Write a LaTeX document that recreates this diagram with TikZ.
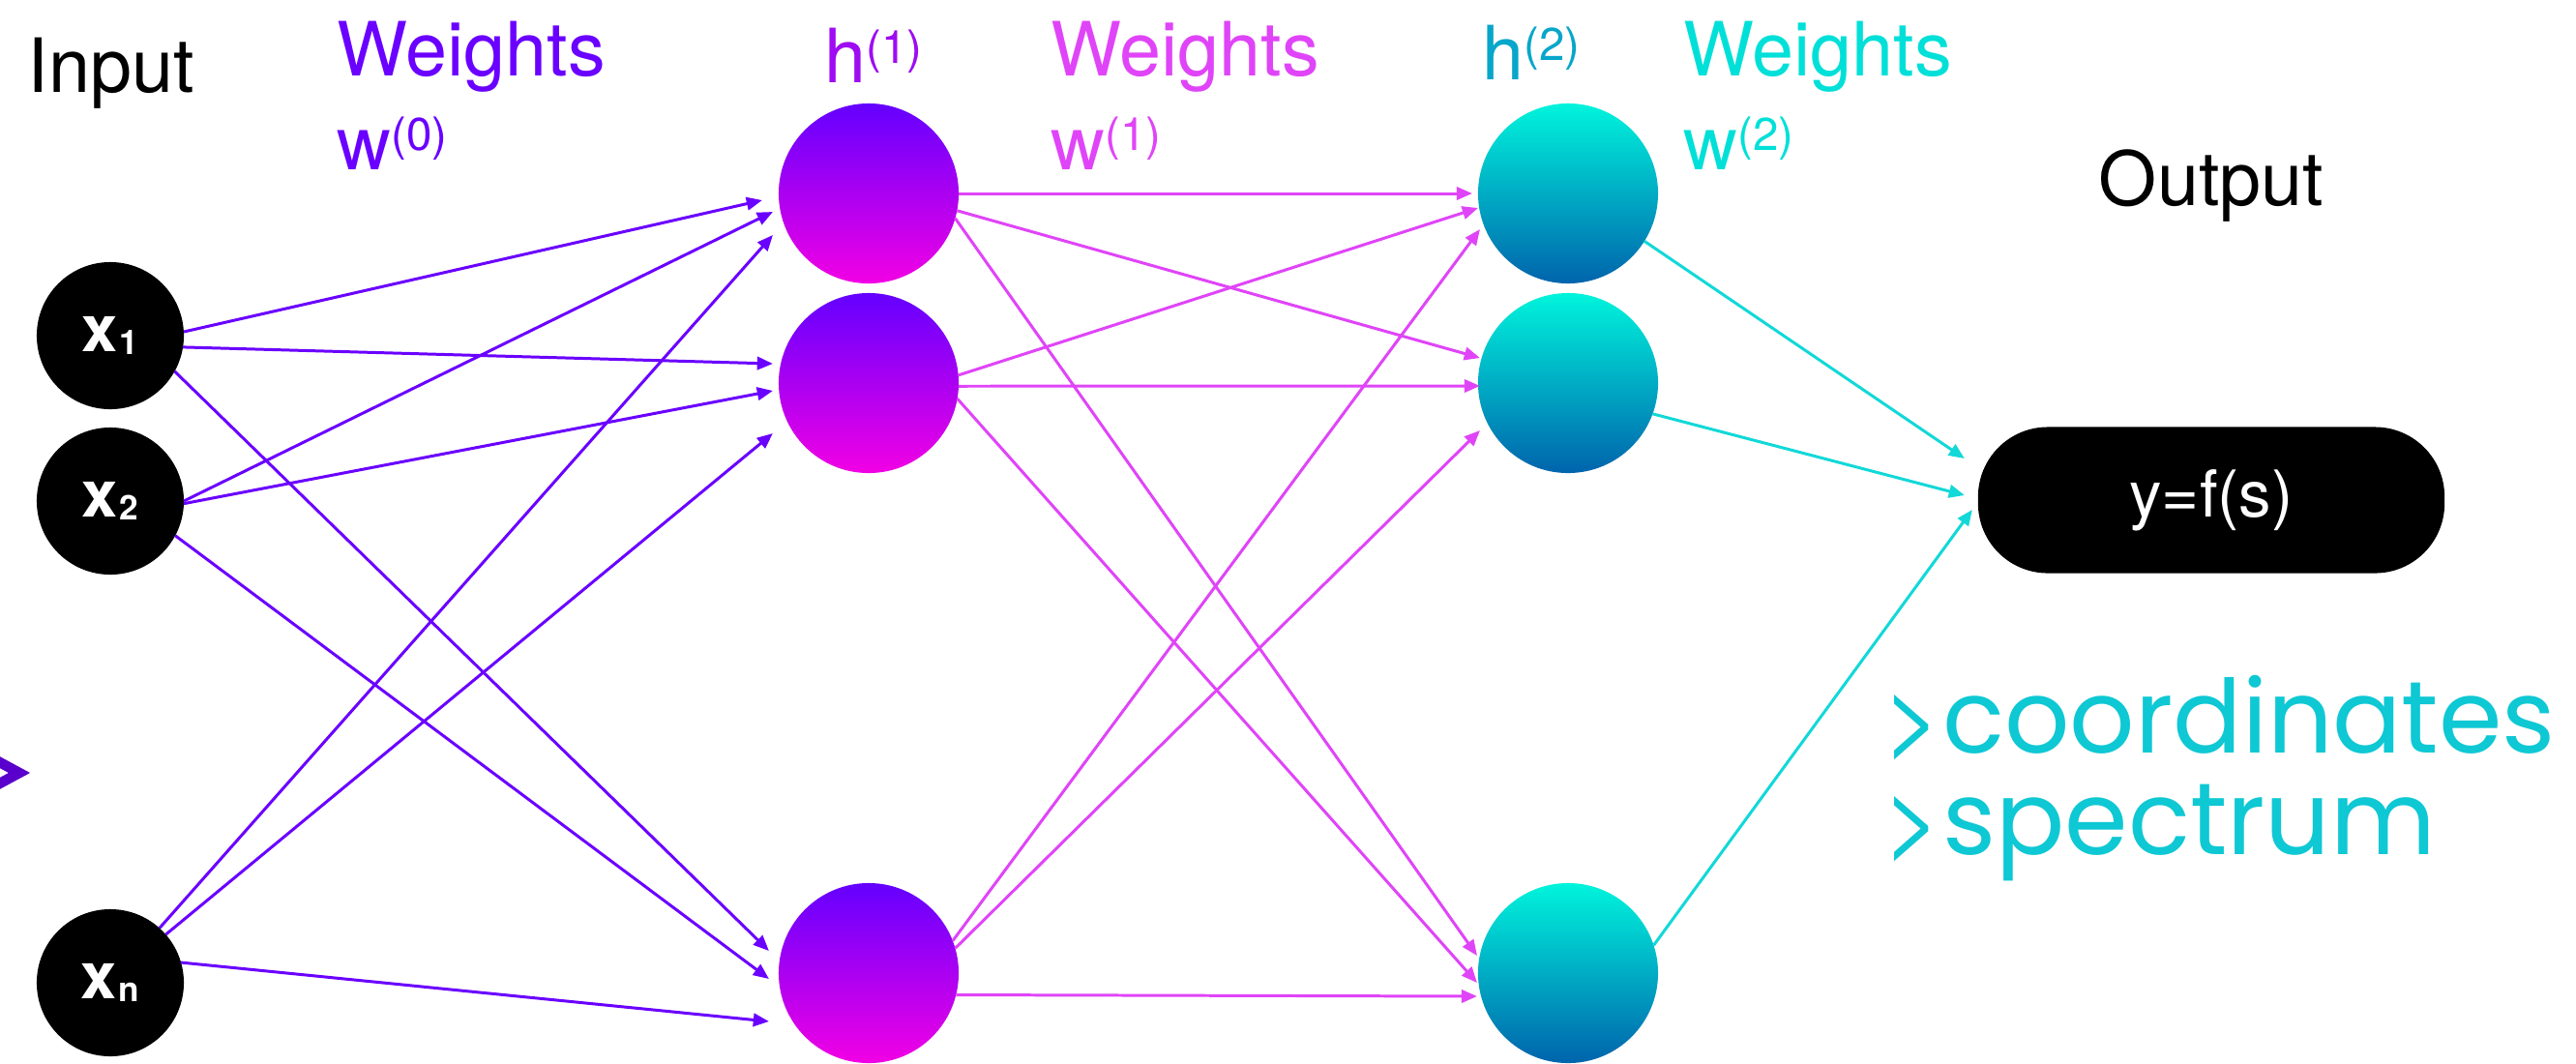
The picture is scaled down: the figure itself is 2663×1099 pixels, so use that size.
\documentclass[tikz,border=0pt]{standalone}
\usepackage{fontspec}
\setmainfont{TeX Gyre Heros}
\newfontfamily\notefont{Poppins}
\usetikzlibrary{arrows.meta,calc}
\definecolor{wzero}{HTML}{6A00FF}
\definecolor{hone}{HTML}{9E0CF2}
\definecolor{wone}{HTML}{E044F8}
\definecolor{htwo}{HTML}{08A6CA}
\definecolor{wtwo}{HTML}{00E0D8}
\definecolor{note}{HTML}{0EC8D4}
\definecolor{chev}{HTML}{5A00CC}
\definecolor{hatop}{HTML}{6400FF}
\definecolor{habot}{HTML}{F200E4}
\definecolor{hbtop}{HTML}{00F4DC}
\definecolor{hbbot}{HTML}{0064AC}
\definecolor{linec}{HTML}{12D8D8}

\newcommand\xsub[1]{x\kern0.5pt\raisebox{-1pt}{\fontsize{10}{10}\selectfont #1}}
\newcommand\lay[1]{\raisebox{5.5pt}{\fontsize{13.5}{13.5}\selectfont(#1)}}
\newcommand\prompt{{\rmfamily>}}

\begin{document}
\begin{tikzpicture}[
  x=0.01cm, y=-0.01cm,
  >={Triangle[length=4.6pt,width=3.8pt]},
  inp/.style={circle, fill=black, minimum size=1.52cm, inner sep=0pt, outer sep=0pt,
    text=white, font=\fontsize{19}{19}\selectfont\bfseries},
  hida/.style={circle, top color=hatop, bottom color=habot, minimum size=1.86cm,
    inner sep=0pt, outer sep=0pt},
  hidb/.style={hida, top color=hbtop, bottom color=hbbot},
  pill/.style={rectangle, rounded corners=0.72cm, fill=black, minimum width=4.82cm,
    minimum height=1.51cm, inner sep=0pt, outer sep=0pt, text=white,
    font=\fontsize{19}{19}\selectfont},
  lbl/.style={inner sep=0pt, font=\fontsize{22}{27.6}\selectfont, align=left},
  wire/.style={->, line width=0.85pt},
]
\path[use as bounding box, fill=white] (0,0) rectangle (2663,1099);

% --- nodes ---
\node[inp] (x1) at (114,347) {\xsub{1}};
\node[inp] (x2) at (114,518) {\xsub{2}};
\node[inp] (xn) at (114,1016) {\xsub{n}};
\node[hida] (h11) at (898,200) {};
\node[hida] (h12) at (898,396) {};
\node[hida] (h13) at (898,1006) {};
\node[hidb] (h21) at (1621,200) {};
\node[hidb] (h22) at (1621,396) {};
\node[hidb] (h23) at (1621,1006) {};
\node[pill] (out) at (2286,517) {y=f(s)};

% --- input layer -> first hidden layer ---
\foreach \s/\a/\t/\dx/\dy in {x1/3/h11/-17/7, x1/-9/h12/-6/-20, x1/-29/h13/-10/-23,
    x2/0/h11/-6/19, x2/-2/h12/-6/8, x2/-28/h13/-10/6,
    xn/48/h11/-6/43, xn/41/h12/-6/52, xn/16/h13/-10/50}
  \draw[wire, wzero] (\s.\a) -- ($(\t.west)+(\dx,\dy)$);
% --- first hidden -> second hidden ---
\foreach \s/\a/\t/\dx/\dy in {h11/0/h21/-6/0, h11/-11/h22/2/-26, h11/-16/h23/-1/-18,
    h12/5/h21/0/15, h12/-2/h22/2/3, h12/-10/h23/-1/10,
    h13/21/h21/2/37, h13/16/h22/2/49, h13/-14/h23/-1/24}
  \draw[wire, wone] (\s.\a) -- ($(\t.west)+(\dx,\dy)$);
% --- second hidden -> output ---
\foreach \s/\a/\dx/\dy in {h21/-32/-14/-43, h22/-20/-14/-5, h23/18/-6/10}
  \draw[wire, linec] (\s.\a) -- ($(out.west)+(\dx,\dy)$);

% --- layer labels ---
\node[lbl, anchor=base west] (lin) at (28,95) {Input};
\node[lbl, anchor=north west, text=wzero] (lw0) at (348,21) {Weights\\w\lay{0}};
\node[lbl, anchor=base west, text=hone] (lh1) at (852,85) {h\lay{1}};
\node[lbl, anchor=north west, text=wone] (lw1) at (1086,21) {Weights\\w\lay{1}};
\node[lbl, anchor=base west, text=htwo] (lh2) at (1532,82) {h\lay{2}};
\node[lbl, anchor=north west, text=wtwo] (lw2) at (1740,21) {Weights\\w\lay{2}};
\node[lbl, anchor=base] (lout) at (2286,212) {Output};

% side notes
\node[inner sep=0pt, anchor=north west, align=left, text=note,
  font=\notefont\fontsize{30}{29.9}\selectfont] (notes) at (1946,697)
  {\prompt coordinates\\\prompt spectrum};
\draw[chev, line width=3pt, miter limit=10] (-30,772) -- (20,799) -- (-30,826);
\end{tikzpicture}
\end{document}
